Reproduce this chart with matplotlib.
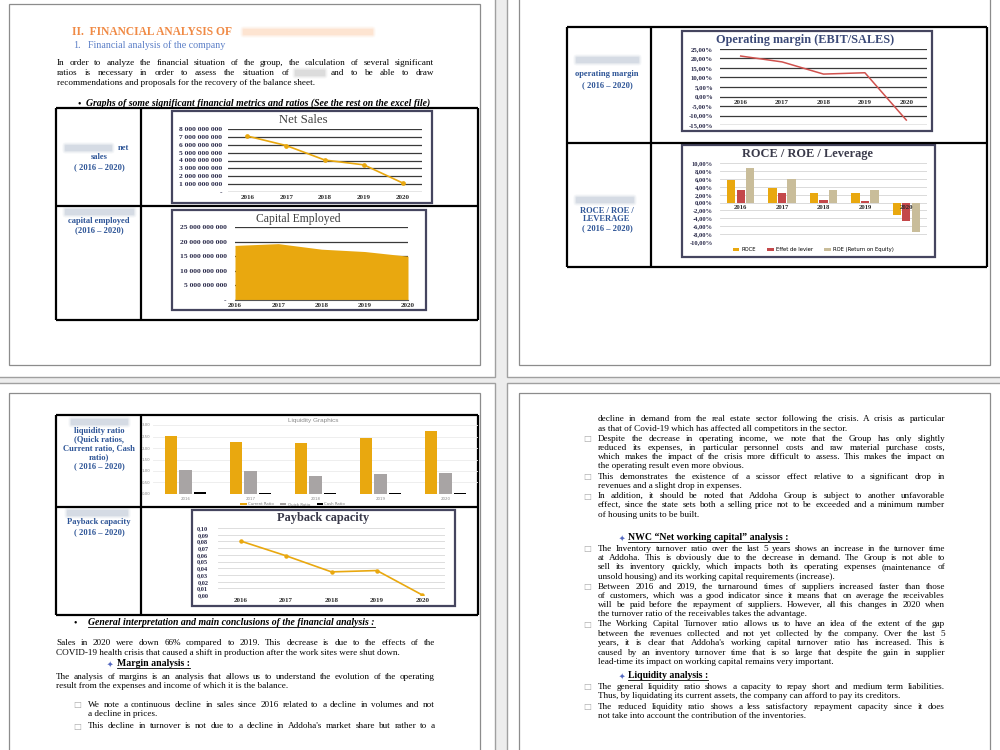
import matplotlib
matplotlib.use('Agg')
import matplotlib.pyplot as plt
from matplotlib.patches import Rectangle, FancyBboxPatch

W, H = 1000, 750

years = ['2016', '2017', '2018', '2019', '2020']
net_sales = [7.1e9, 5.9e9, 4.05e9, 3.45e9, 1.15e9]
capital_employed = [18.7e9, 19.3e9, 17.4e9, 16.6e9, 15.0e9]
operating_margin = [0.213, 0.182, 0.118, 0.125, -0.124]
roce = [0.058, 0.036, 0.025, 0.025, -0.032]
leverage_effect = [0.0305, 0.023, 0.0075, 0.005, -0.0465]
roe = [0.088, 0.0585, 0.032, 0.0305, -0.075]
current_ratio = [2.53, 2.25, 2.20, 2.42, 2.75]
quick_ratio = [1.03, 0.98, 0.80, 0.89, 0.92]
cash_ratio = [0.07, 0.04, 0.04, 0.04, 0.04]
payback = [0.0805, 0.0585, 0.0345, 0.0365, 0.0]

GOLD = '#E9A80F'
RED = '#D0524E'
DARKRED = '#C4484A'
TAN = '#C9BD9A'
GREY = '#A8A4A4'
BOX = '#45455F'
LBLUE = '#2E5597'
SERIF = 'Liberation Serif'
BODY = 6.6

fig = plt.figure(figsize=(10, 7.5), dpi=100, facecolor='#ededed')
bg = fig.add_axes([0, 0, 1, 1])
bg.set_xlim(0, W)
bg.set_ylim(H, 0)
bg.axis('off')
r = fig.canvas.get_renderer()

# pages and margin frames
for x0, y0, x1, y1 in [(-5, -5, 495, 377), (507, -5, 1005, 377),
                       (-5, 383, 495, 755), (507, 383, 1005, 755)]:
    bg.add_patch(Rectangle((x0, y0), x1 - x0, y1 - y0, fc='white', ec='#a0a0a0', lw=1))
for x0, y0, x1, y1 in [(9, 4, 480, 365), (519, -10, 990, 365),
                       (9, 393, 480, 760), (519, 393, 990, 760)]:
    bg.add_patch(Rectangle((x0, y0), x1 - x0, y1 - y0, fc='none', ec='#8c8c8c', lw=0.9))


def put(x, y, s, size=BODY, **kw):
    # y is the visual middle of the line; text sits on a baseline below it
    kw.setdefault('family', SERIF)
    kw.setdefault('color', 'black')
    kw.setdefault('ha', 'left')
    return bg.text(x, y + 0.32 * size, s, fontsize=size, va='baseline', **kw)


def justify(x0, x1, y, s, size=BODY, **kw):
    words = s.split()
    ts = [put(0, y, w, size, **kw) for w in words]
    while True:
        ws = [t.get_window_extent(r).width for t in ts]
        gap = (x1 - x0 - sum(ws)) / max(len(words) - 1, 1)
        if gap >= 1.2 or size < 4:
            break
        size -= 0.2
        for t in ts:
            t.set_fontsize(size)
    x = x0
    for t, w in zip(ts, ws):
        t.set_x(x)
        x += w + gap


def underline(t, color='black'):
    bb = t.get_window_extent(r)
    inv = bg.transData.inverted()
    (xa, ya), (xb, yb) = inv.transform([[bb.x0, bb.y0], [bb.x1, bb.y0]])
    bg.plot([xa, xb], [ya, yb], color=color, lw=0.6)


def blur(x0, x1, y, color='#d3d9e3'):
    for pad, a in [(3.5, 0.25), (2.2, 0.45), (1.0, 0.85)]:
        bg.add_patch(FancyBboxPatch((x0, y - 2), x1 - x0, 4, boxstyle=f'round,pad={pad}',
                                    fc=color, ec='none', alpha=a))


def bullet_box(x, y):
    bg.text(x, y, '\u25a1', fontsize=6, family='DejaVu Sans', color='#a8a8a8',
            ha='center', va='center')


def star(x, y):
    bg.text(x, y, '\u2726', fontsize=5.5, family='DejaVu Sans', color='#5468C0',
            ha='center', va='center')


def table(x0, x1, xdiv, ys):
    kw = dict(color='black', lw=1.6, solid_capstyle='butt')
    for y in ys:
        bg.plot([x0, x1], [y, y], **kw)
    bg.plot([x0, x0], [ys[0], ys[-1]], **kw)
    bg.plot([x1, x1], [ys[0], ys[-1]], **kw)
    bg.plot([xdiv, xdiv], [ys[0], ys[-1]], **kw)


def frame(x0, y0, x1, y1):
    bg.add_patch(Rectangle((x0, y0), x1 - x0, y1 - y0, fc='white', ec=BOX, lw=1.6))


def chart_ax(x0, y0, x1, y1):
    ax = fig.add_axes([x0 / W, 1 - y1 / H, (x1 - x0) / W, (y1 - y0) / H])
    ax.set_facecolor('none')
    for s in ax.spines.values():
        s.set_visible(False)
    ax.tick_params(length=0)
    return ax


def bold_serif(ax):
    for lab in ax.get_xticklabels() + ax.get_yticklabels():
        lab.set_fontweight('bold')
        lab.set_family(SERIF)


def big(v):
    return '-' if v == 0 else f'{int(v):,}'.replace(',', ' ')


def pct(v):
    return f'{v * 100:.2f}%'.replace('.', ',')


def label(x, y, s, ha='center'):
    put(x, y, s, 6.1, color=LBLUE, weight='bold', ha=ha)


# ---------------- page 1 ----------------
put(72, 32, 'II.  FINANCIAL ANALYSIS OF', 8.3, color='#F08A45', weight='bold')
blur(244, 372, 32, '#fde3cf')
put(73, 46, '1.', 7.2, color='#5B7FC7')
put(88, 46, 'Financial analysis of the company', 7.2, color='#5B7FC7')
justify(57, 434, 63, 'In order to analyze the financial situation of the group, the calculation of several significant')
justify(57, 289, 73, 'ratios is necessary in order to assess the situation of')
blur(296, 324, 73, '#dadada')
justify(331, 434, 73, 'and to be able to draw')
put(57, 83, 'recommendations and proposals for the recovery of the balance sheet.')
put(77, 104, '\u2022', 7)
t = put(86, 104, 'Graphs of some significant financial metrics and ratios (See the rest on the excel file)',
        7.0, weight='bold', style='italic')
underline(t)

table(56, 478, 141, [108, 206, 320])
blur(66, 111, 148)
label(118, 148, 'net', ha='left')
label(99, 157, 'sales')
label(99, 167, '( 2016 \u2013 2020)')
blur(66, 133, 212)
label(99, 221, 'capital employed')
label(99, 230, '(2016 \u2013 2020)')

# Net Sales
frame(172, 111, 432, 203)
put(303, 120, 'Net Sales', 9.2, color='#404040', ha='center')
ax = chart_ax(228, 129, 422, 192)
ax.plot(range(5), net_sales, color=GOLD, lw=1.2, marker='o', ms=2.4)
ax.set_xlim(-0.5, 4.5)
ax.set_ylim(0, 8e9)
ticks = [i * 1e9 for i in range(9)]
ax.set_yticks(ticks, [big(v) for v in ticks])
ax.set_xticks(range(5), years)
ax.grid(axis='y', color='#3a3a3a', lw=0.9)
ax.set_axisbelow(True)
ax.tick_params(axis='y', labelsize=5.4, pad=4, colors='#2a2a4a')
ax.tick_params(axis='x', labelsize=5.0, pad=2, colors='#2a2a2a')
bold_serif(ax)

# Capital Employed
frame(172, 210, 426, 310)
put(298, 219, 'Capital Employed', 8.4, color='#404040', ha='center')
ax = chart_ax(235, 227, 408, 300)
ax.fill_between(range(5), capital_employed, color=GOLD, lw=0, zorder=2)
ax.set_xlim(0, 4)
ax.set_ylim(0, 25e9)
ticks = [i * 5e9 for i in range(6)]
ax.set_yticks(ticks, [big(v) for v in ticks])
ax.set_xticks(range(5), years)
ax.grid(axis='y', color='#3a3a3a', lw=0.9, zorder=1)
ax.spines['bottom'].set_visible(True)
ax.spines['bottom'].set_color('#555555')
ax.tick_params(axis='y', labelsize=5.4, pad=6, colors='#2a2a4a')
ax.tick_params(axis='x', labelsize=5.0, pad=2, colors='#2a2a2a')
bold_serif(ax)

# ---------------- page 2 ----------------
table(567, 987, 651, [27, 143, 267])
blur(577, 638, 60)
label(607, 74, 'operating margin')
label(607, 85, '( 2016 \u2013 2020)')
blur(577, 633, 200)
label(607, 211, 'ROCE / ROE /')
label(607, 219.5, 'LEVERAGE')
label(607, 228, '( 2016 \u2013 2020)')

# Operating margin
frame(682, 31, 932, 131)
put(805, 40, 'Operating margin (EBIT/SALES)', 8.8, color='#3C4A78', weight='bold', ha='center')
ax = chart_ax(720, 49, 927, 125)
ax.plot(range(5), operating_margin, color=RED, lw=1.1)
ax.set_xlim(-0.5, 4.5)
ax.set_ylim(-0.15, 0.25)
ticks = [i * 0.05 for i in range(-3, 6)]
ax.set_yticks(ticks, [pct(v) for v in ticks])
ax.set_xticks([])
ax.grid(axis='y', color='#3a3a3a', lw=0.9)
ax.set_axisbelow(True)
ax.tick_params(axis='y', labelsize=4.9, pad=5, colors='#2a2a4a')
bold_serif(ax)
for i, yr in enumerate(years):
    ax.text(i, -0.029, yr, ha='center', va='center', fontsize=5.0, weight='bold',
            family=SERIF, color='#2a2a2a')

# ROCE / ROE / Leverage
frame(682, 145, 935, 257)
put(808, 154, 'ROCE / ROE / Leverage', 8.9, color='#3A3A4A', weight='bold', ha='center')
ax = chart_ax(720, 163, 927, 242)
xs = list(range(5))
b1 = ax.bar([x - 0.23 for x in xs], roce, 0.2, color=GOLD, label='ROCE')
b2 = ax.bar(xs, leverage_effect, 0.2, color=DARKRED, label='Effet de levier')
b3 = ax.bar([x + 0.23 for x in xs], roe, 0.2, color=TAN, label='ROE (Return on Equity)')
ax.set_xlim(-0.5, 4.5)
ax.set_ylim(-0.10, 0.10)
ticks = [i * 0.02 for i in range(-5, 6)]
ax.set_yticks(ticks, [pct(v) for v in ticks])
ax.set_xticks([])
ax.grid(axis='y', color='#d4d4d4', lw=0.6)
ax.set_axisbelow(True)
ax.tick_params(axis='y', labelsize=4.7, pad=5, colors='#2a2a4a')
bold_serif(ax)
for i, yr in enumerate(years):
    ax.text(i, -0.012, yr, ha='center', va='center', fontsize=4.8, weight='bold',
            family=SERIF, color='#2a2a2a', zorder=5)
ax.legend(handles=[b1, b2, b3], loc='center', bbox_to_anchor=(0.45, -0.1), ncol=3,
          frameon=False, fontsize=3.8, handlelength=1.2, handleheight=0.6,
          columnspacing=2.2, handletextpad=0.4, borderpad=0)

# ---------------- page 3 ----------------
table(56, 478, 141, [415, 507, 615])
blur(72, 127, 422)
for yy, s in [(431, 'liquidity ratio'), (439.5, '(Quick ratios,'), (448, 'Current ratio, Cash'),
              (457, 'ratio)'), (466, '( 2016 \u2013 2020)')]:
    label(99, yy, s)
blur(68, 127, 513)
label(99, 522, 'Payback capacity')
label(99, 532, '( 2016 \u2013 2020)')

# Liquidity graphics
put(313, 421, 'Liquidity Graphics', 4.6, color='#8a8a8a', ha='center', family='Liberation Sans')
ax = chart_ax(153, 425, 478, 494)
l1 = ax.bar([x - 0.22 for x in xs], current_ratio, 0.19, color=GOLD, label='Current Ratio')
l2 = ax.bar(xs, quick_ratio, 0.19, color=GREY, label='Quick Ratio')
l3 = ax.bar([x + 0.22 for x in xs], cash_ratio, 0.19, color='black', label='Cash Ratio')
ax.set_xlim(-0.5, 4.5)
ax.set_ylim(0, 3.0)
ticks = [i * 0.5 for i in range(7)]
ax.set_yticks(ticks, [f'{v:.2f}'.replace('.', ',') for v in ticks])
ax.set_xticks(xs, years)
ax.grid(axis='y', color='#ebebeb', lw=0.6)
ax.set_axisbelow(True)
ax.tick_params(labelsize=2.8, pad=2, colors='#888888')
ax.legend(handles=[l1, l2, l3], loc='center', bbox_to_anchor=(0.43, -0.15), ncol=3,
          frameon=False, fontsize=2.8, handlelength=1.6, handleheight=0.35,
          columnspacing=1.6, handletextpad=0.4, borderpad=0, labelcolor='#777777')

# Payback capacity
frame(192, 510, 455, 606)
put(323, 518, 'Payback capacity', 8.9, color='#3A3A4A', weight='bold', ha='center')
ax = chart_ax(218, 528, 445, 595)
ax.plot(range(5), payback, color=GOLD, lw=1.2, marker='o', ms=2.2)
ax.set_xlim(-0.5, 4.5)
ax.set_ylim(0, 0.10)
ticks = [i * 0.01 for i in range(11)]
ax.set_yticks(ticks, [f'{v:.2f}'.replace('.', ',') for v in ticks])
ax.set_xticks(range(5), years)
ax.grid(axis='y', color='#d8d8d8', lw=0.6)
ax.set_axisbelow(True)
ax.tick_params(axis='y', labelsize=4.6, pad=7, colors='#2a2a4a')
ax.tick_params(axis='x', labelsize=5.0, pad=2, colors='#2a2a2a')
bold_serif(ax)

put(74, 623, '\u2022', 7)
t = put(88, 623, 'General interpretation and main conclusions of the financial analysis :',
        7.0, weight='bold', style='italic')
underline(t)
justify(56, 435, 643, 'Sales in 2020 were down 66% compared to 2019. This decrease is due to the effects of the')
put(56, 653, 'COVID-19 health crisis that caused a shift in production after the work sites were shut down.')
star(110, 664)
t = put(117, 664, 'Margin analysis :', 7.0, weight='bold')
underline(t)
justify(56, 435, 677, 'The analysis of margins is an analysis that allows us to understand the evolution of the operating')
put(56, 686, 'result from the expenses and income of which it is the balance.')
bullet_box(77, 705)
justify(88, 435, 705, 'We note a continuous decline in sales since 2016 related to a decline in volumes and not')
put(88, 714, 'a decline in prices.')
bullet_box(77, 726)
justify(88, 435, 726, "This decline in turnover is not due to a decline in Addoha's market share but rather to a")

# ---------------- page 4 ----------------
page4 = [
    (419, '', 'J', 'decline in demand from the real estate sector following the crisis. A crisis as particular'),
    (428.5, '', 'L', 'as that of Covid-19 which has affected all competitors in the sector.'),
    (439, 'b', 'J', 'Despite the decrease in operating income, we note that the Group has only slightly'),
    (448, '', 'J', 'reduced its expenses, in particular personnel costs and raw material purchase costs,'),
    (457, '', 'J', 'which makes the impact of the crisis more difficult to assess. This makes the impact on'),
    (466, '', 'L', 'the operating result even more obvious.'),
    (476.5, 'b', 'J', 'This demonstrates the existence of a scissor effect relative to a significant drop in'),
    (485.5, '', 'L', 'revenues and a slight drop in expenses.'),
    (496, 'b', 'J', 'In addition, it should be noted that Addoha Group is subject to another unfavorable'),
    (505, '', 'J', 'effect, since the state sets both a selling price not to be exceeded and a minimum number'),
    (514.5, '', 'L', 'of housing units to be built.'),
    (549, 'b', 'J', 'The Inventory turnover ratio over the last 5 years shows an increase in the turnover time'),
    (558, '', 'J', 'at Addoha. This is obviously due to the decrease in demand. The Group is not able to'),
    (567, '', 'J', 'sell its inventory quickly, which impacts both its operating expenses (maintenance of'),
    (576.5, '', 'L', 'unsold housing) and its working capital requirements (increase).'),
    (587, 'b', 'J', 'Between 2016 and 2019, the turnaround times of suppliers increased faster than those'),
    (596, '', 'J', 'of customers, which was a good indicator since it means that on average the receivables'),
    (605, '', 'J', 'will be paid before the repayment of suppliers. However, all this changes in 2020 when'),
    (614, '', 'L', 'the turnover ratio of the receivables takes the advantage.'),
    (624, 'b', 'J', 'The Working Capital Turnover ratio allows us to have an idea of the extent of the gap'),
    (633.5, '', 'J', 'between the revenues collected and not yet collected by the company. Over the last 5'),
    (643, '', 'J', "years, it is clear that Addoha's working capital turnover ratio has increased. This is"),
    (652.5, '', 'J', 'caused by an inventory turnover time that is so large that despite the gain in supplier'),
    (661.5, '', 'L', 'lead-time its impact on working capital remains very important.'),
    (687, 'b', 'J', 'The general liquidity ratio shows a capacity to repay short and medium term liabilities.'),
    (696, '', 'L', 'Thus, by liquidating its current assets, the company can afford to pay its creditors.'),
    (707, 'b', 'J', 'The reduced liquidity ratio shows a less satisfactory repayment capacity since it does'),
    (716, '', 'L', 'not take into account the contribution of the inventories.'),
]
for yy, mark, mode, s in page4:
    if mark:
        bullet_box(587, yy)
    if mode == 'J':
        justify(598, 945, yy, s)
    else:
        put(598, yy, s)

star(622, 538)
t = put(628, 538, 'NWC \u201cNet working capital\u201d analysis :', 7.0, weight='bold')
underline(t)
star(622, 676)
t = put(628, 676, 'Liquidity analysis :', 7.0, weight='bold')
underline(t)

fig.savefig('out.png', dpi=100, facecolor=fig.get_facecolor())
